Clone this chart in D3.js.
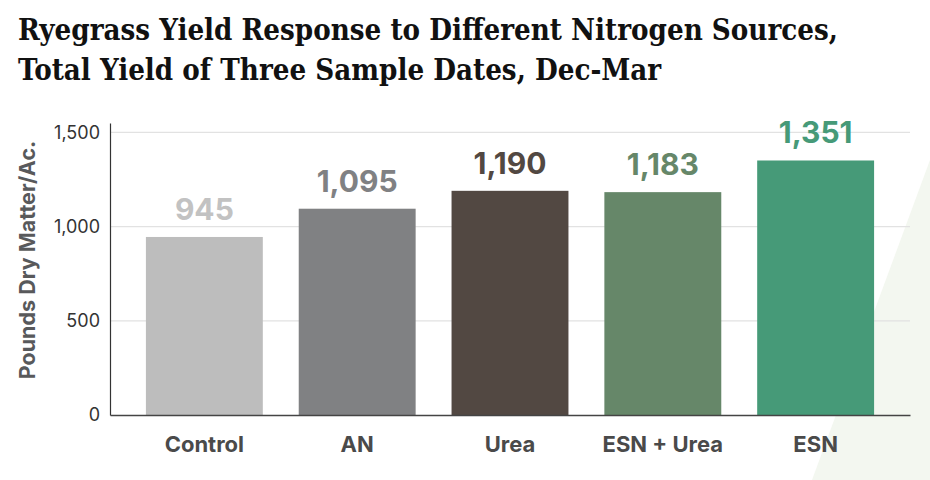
<!DOCTYPE html>
<html>
<head>
<meta charset="utf-8">
<script src="https://cdn.jsdelivr.net/npm/d3@7"></script>
<style>
  html, body { margin: 0; padding: 0; background: #ffffff; }
  svg { display: block; }
</style>
</head>
<body>
<svg id="chart" width="930" height="480"></svg>
<script>
// ---- data ----
const categories = ["Control", "AN", "Urea", "ESN + Urea", "ESN"];
const yieldValues = [945, 1095, 1190, 1183, 1351];
const barColors = ["#bdbdbd", "#808183", "#524842", "#668769", "#469a78"];
const labelColors = ["#c2c2c2", "#808183", "#524842", "#668769", "#469a78"];
const yTicks = [0, 500, 1000, 1500];
const titleLines = ["Ryegrass Yield Response to Different Nitrogen Sources,", "Total Yield of Three Sample Dates, Dec-Mar"];
const yAxisTitle = "Pounds Dry Matter/Ac.";

const svg = d3.select("#chart");
const W = 930, H = 480;
const margin = { left: 110, right: 20, top: 123, bottom: 65 };
const plotRight = W - margin.right;
const plotBottom = H - margin.bottom;

// background decorative triangle
svg.append("polygon")
  .attr("points", [[930, 160], [812, 480], [930, 480]].map(p => p.join(",")).join(" "))
  .attr("fill", "#f3f7f0");

const x = d3.scaleBand()
  .domain(categories)
  .range([margin.left, plotRight])
  .paddingInner(0.235)
  .paddingOuter(0.235);

const y = d3.scaleLinear()
  .domain([0, 1550])
  .range([plotBottom, margin.top]);

const sans = "Inter, 'Open Sans', sans-serif";

// gridlines
svg.append("g")
  .selectAll("line")
  .data(yTicks.filter(d => d > 0))
  .join("line")
  .attr("x1", margin.left).attr("x2", plotRight)
  .attr("y1", d => y(d)).attr("y2", d => y(d))
  .attr("stroke", "#e2e2e2").attr("stroke-width", 1.2);

// bars
svg.append("g")
  .selectAll("rect")
  .data(categories)
  .join("rect")
  .attr("x", d => x(d))
  .attr("width", x.bandwidth())
  .attr("y", (d, i) => y(yieldValues[i]))
  .attr("height", (d, i) => y(0) - y(yieldValues[i]))
  .attr("fill", (d, i) => barColors[i]);

// value labels
const fmt = d3.format(",");
svg.append("g")
  .selectAll("text")
  .data(categories)
  .join("text")
  .attr("x", d => x(d) + x.bandwidth() / 2)
  .attr("y", (d, i) => y(yieldValues[i]) - 17)
  .attr("text-anchor", "middle")
  .attr("font-family", sans)
  .attr("font-weight", 700)
  .attr("font-size", 30)
  .attr("fill", (d, i) => labelColors[i])
  .text((d, i) => fmt(yieldValues[i]));

// y axis
const yAxis = d3.axisLeft(y).tickValues(yTicks).tickFormat(fmt).tickSize(0).tickPadding(10);
const gy = svg.append("g").attr("transform", `translate(${margin.left},0)`).call(yAxis);
gy.select(".domain").attr("stroke", "#333").attr("stroke-width", 1.2);
gy.selectAll("text")
  .attr("font-family", sans)
  .attr("font-size", 18)
  .attr("fill", "#333");

// x axis
const xAxis = d3.axisBottom(x).tickSize(0).tickPadding(21);
const gx = svg.append("g").attr("transform", `translate(0,${plotBottom})`).call(xAxis);
gx.select(".domain").attr("stroke", "#444").attr("stroke-width", 1.5);
gx.selectAll("text")
  .attr("font-family", sans)
  .attr("font-weight", 700)
  .attr("font-size", 22)
  .attr("fill", "#4a4a4a");

// y axis title
svg.append("text")
  .attr("transform", `translate(35,260) rotate(-90)`)
  .attr("text-anchor", "middle")
  .attr("font-family", sans)
  .attr("font-weight", 700)
  .attr("font-size", 21.5)
  .attr("fill", "#58595b")
  .text(yAxisTitle);

// title
const t1 = svg.append("text")
  .attr("x", 18).attr("y", 40)
  .attr("font-family", "'DejaVu Serif Condensed', 'DejaVu Serif', serif")
  .attr("font-weight", 700)
  .attr("font-size", 24)
  .attr("fill", "#111")
  .text(titleLines[0]);
const t2 = svg.append("text")
  .attr("x", 18).attr("y", 80)
  .attr("font-family", "'DejaVu Serif Condensed', 'DejaVu Serif', serif")
  .attr("font-weight", 700)
  .attr("font-size", 24)
  .attr("fill", "#111")
  .text(titleLines[1]);
// fit first line to the reference width
const w1 = t1.node().getComputedTextLength();
const scale = 820 / w1;
const fs = 24 * scale;
t1.attr("font-size", fs);
t2.attr("font-size", fs);
</script>
</body>
</html>
